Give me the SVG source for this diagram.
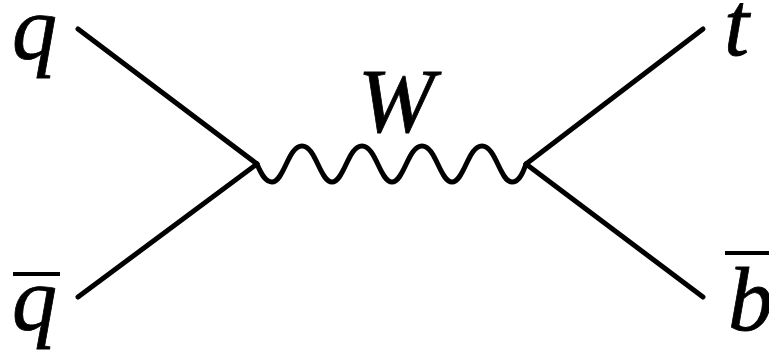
<svg xmlns="http://www.w3.org/2000/svg" width="769" height="350" viewBox="0 0 769 350">
<style>
.ln{stroke:#000;stroke-width:5;fill:none;stroke-linecap:round;stroke-linejoin:round}
.bar{stroke:#000;stroke-width:4}
</style>
<rect width="769" height="350" fill="#fff"/>
<g id="connectors">
<line class="ln" x1="78" y1="29" x2="257" y2="164"/>
<line class="ln" x1="78" y1="297" x2="257" y2="164"/>
<path class="ln" d="M257,164 C262,176 266,182 272,182 C284,182 288,146 302,146 C316,146 320,182 332,182 C344,182 348,146 362,146 C376,146 380,182 392,182 C404,182 408,146 422,146 C436,146 440,182 452,182 C464,182 468,146 482,146 C496,146 500,182 512,182 C518,182 522,176 526,164"/>
<line class="ln" x1="526" y1="164" x2="703" y2="29"/>
<line class="ln" x1="526" y1="164" x2="703" y2="297"/>
</g>
<g id="q"><text font-family="Liberation Serif, Times New Roman, serif" font-style="italic" font-size="90" stroke="#000" stroke-width="0.8" x="12" y="59">q</text></g>
<g id="qbar"><text font-family="Liberation Serif, Times New Roman, serif" font-style="italic" font-size="90" stroke="#000" stroke-width="0.8" x="12" y="330">q</text><line class="bar" x1="13" y1="274" x2="60" y2="274"/></g>
<g id="W"><text font-family="Liberation Serif, Times New Roman, serif" font-style="italic" font-size="92" stroke="#000" stroke-width="0.8" x="396" y="132" text-anchor="middle">W</text></g>
<g id="t"><text font-family="Liberation Serif, Times New Roman, serif" font-style="italic" font-size="90" stroke="#000" stroke-width="0.8" x="724" y="55">t</text></g>
<g id="bbar"><text font-family="Liberation Serif, Times New Roman, serif" font-style="italic" font-size="90" stroke="#000" stroke-width="0.8" x="728" y="330">b</text><line class="bar" x1="725" y1="253" x2="769" y2="253"/></g>
</svg>
